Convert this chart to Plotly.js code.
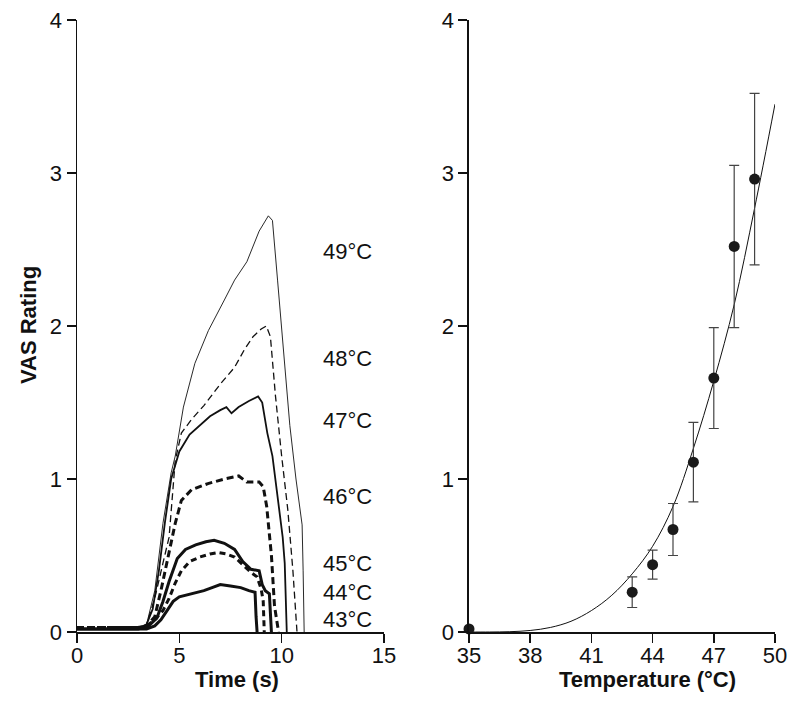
<!DOCTYPE html>
<html>
<head>
<meta charset="utf-8">
<script src="https://cdn.plot.ly/plotly-3.0.1.min.js"></script>
<style>html,body{margin:0;padding:0;background:#fff;}#chart{width:800px;height:709px;}</style>
</head>
<body>
<div id="chart"></div>
<script>
// ---- Left panel: VAS time courses ----
const t43 = [0,3,3.4,3.8,4.1,4.4,4.7,5.0,5.6,6.2,6.6,7.0,7.5,8.0,8.4,8.7,8.75,8.8];
const v43 = [0.02,0.02,0.02,0.04,0.08,0.14,0.2,0.23,0.25,0.27,0.29,0.31,0.30,0.29,0.27,0.26,0.1,0];
const t44 = [0,3,3.4,3.8,4.2,4.5,4.8,5.1,5.5,6.0,6.5,6.9,7.3,7.7,8.1,8.5,8.8,9.0,9.1,9.15];
const v44 = [0.03,0.03,0.04,0.08,0.14,0.22,0.32,0.40,0.46,0.49,0.51,0.52,0.51,0.49,0.44,0.39,0.36,0.28,0.2,0];
const t45 = [0,3,3.5,3.9,4.2,4.5,4.9,5.3,5.8,6.3,6.7,7.2,7.7,8.1,8.5,8.9,9.05,9.2,9.4,9.45,9.5];
const v45 = [0.02,0.02,0.04,0.09,0.2,0.33,0.48,0.54,0.57,0.59,0.6,0.58,0.54,0.46,0.41,0.40,0.31,0.27,0.25,0.1,0];
const t46 = [0,3,3.4,3.8,4.1,4.45,4.8,5.1,5.6,6.4,7.2,7.9,8.3,8.9,9.1,9.27,9.5,9.65,9.8,9.85];
const v46 = [0.03,0.03,0.04,0.10,0.27,0.49,0.71,0.86,0.93,0.97,1.0,1.02,0.98,0.98,0.95,0.82,0.5,0.17,0.03,0];
const t47 = [0,3,3.4,3.7,4.0,4.3,4.6,5.0,5.5,6.0,6.5,7.0,7.3,7.55,7.9,8.4,8.85,9.05,9.3,9.55,9.8,10.05,10.15,10.2,10.25];
const v47 = [0.02,0.02,0.05,0.15,0.4,0.72,1.0,1.18,1.29,1.35,1.41,1.45,1.47,1.43,1.47,1.51,1.54,1.50,1.30,1.15,0.90,0.62,0.45,0.1,0];
const t48 = [0,3,3.4,3.8,4.2,4.5,4.8,5.1,5.6,6.2,7.0,7.7,8.2,8.6,9.0,9.25,9.45,9.7,10.0,10.3,10.55,10.7,10.75];
const v48 = [0.02,0.02,0.05,0.22,0.45,0.62,1.12,1.30,1.39,1.48,1.62,1.73,1.85,1.93,1.98,2.0,1.93,1.54,1.15,0.8,0.4,0.08,0];
const t49 = [0,3,3.4,3.8,4.2,4.6,4.8,5.2,5.76,6.42,7.2,7.7,8.3,8.9,9.35,9.55,9.8,10.1,10.4,10.7,10.9,11.0,11.05,11.1];
const v49 = [0.02,0.02,0.05,0.27,0.71,1.04,1.15,1.47,1.756,1.97,2.17,2.3,2.42,2.62,2.72,2.69,2.3,1.8,1.35,1.0,0.8,0.7,0.4,0];
const seriesLabels = ['43°C','44°C','45°C','46°C','47°C','48°C','49°C'];

// ---- Right panel: mean ratings vs temperature ----
const temps = [35,43,44,45,46,47,48,49];
const meanVAS = [0.02,0.26,0.44,0.67,1.11,1.66,2.52,2.96];
const semVAS = [0,0.10,0.095,0.17,0.26,0.33,0.53,0.56];
const fitT = [35,36,37,38,39,40,41,42,43,44,45,46,47,48,49,50];
const fitV = [0,0,0.002,0.01,0.03,0.07,0.14,0.24,0.38,0.56,0.82,1.2,1.64,2.14,2.77,3.45];

const leftX = ['Time (s)'];
const black = '#111';

function line(x,y,width,dash){
  return {x:x,y:y,type:'scatter',mode:'lines',xaxis:'x',yaxis:'y',
    line:{color:black,width:width,dash:dash,shape:'linear'},hoverinfo:'skip',showlegend:false};
}
const traces = [
  line(t43,v43,3,'solid'),
  line(t44,v44,3,'6px,4px'),
  line(t45,v45,3,'solid'),
  line(t46,v46,3,'7px,4px'),
  line(t47,v47,1.8,'solid'),
  line(t48,v48,1.3,'7px,4px'),
  line(t49,v49,0.9,'solid'),
  {x:fitT,y:fitV,type:'scatter',mode:'lines',xaxis:'x2',yaxis:'y2',
   line:{color:black,width:1,shape:'spline'},hoverinfo:'skip',showlegend:false},
  {x:temps,y:meanVAS,type:'scatter',mode:'markers',xaxis:'x2',yaxis:'y2',cliponaxis:false,
   marker:{color:'#1a1a1a',size:11},
   error_y:{type:'data',array:semVAS,visible:true,color:'#444',thickness:1.2,width:5},
   hoverinfo:'skip',showlegend:false}
];

const tickFont = {family:'Arial, "Liberation Sans", sans-serif',size:22,color:black};
const titleFont = {family:'Arial, "Liberation Sans", sans-serif',size:22,color:black,weight:'bold'};
const axBase = {showgrid:false,zeroline:false,showline:true,linecolor:black,linewidth:1.5,
  ticks:'outside',ticklen:9,tickwidth:1.5,tickcolor:black,tickfont:tickFont,fixedrange:true};

const labelY = [0.085,0.26,0.45,0.884,1.38,1.79,2.485];
const annotations = seriesLabels.map((s,i)=>({text:s,x:11.9,y:labelY[i],xref:'x',yref:'y',
  xanchor:'left',yanchor:'middle',showarrow:false,font:tickFont}));
annotations.push({text:'<b>VAS Rating</b>',x:-0.0702,y:0.5016,xref:'paper',yref:'paper',
  textangle:-90,showarrow:false,xanchor:'center',yanchor:'middle',font:titleFont});
annotations.push({text:'<b>'+leftX[0]+'</b>',x:0.2288,y:-0.0784,xref:'paper',yref:'paper',
  showarrow:false,xanchor:'center',yanchor:'middle',font:titleFont});
annotations.push({text:'<b>Temperature (°C)</b>',x:0.8173,y:-0.0784,xref:'paper',yref:'paper',
  showarrow:false,xanchor:'center',yanchor:'middle',font:titleFont});

const xStand = -6;
const layout = {
  width:800,height:709,paper_bgcolor:'#fff',plot_bgcolor:'#fff',
  margin:{l:77,r:25,t:20,b:77},showlegend:false,
  xaxis:Object.assign({},axBase,{domain:[0,0.4398],range:[0,15],tickvals:[0,5,10,15],ticklabelstandoff:xStand}),
  yaxis:Object.assign({},axBase,{range:[0,4],tickvals:[0,1,2,3,4]}),
  xaxis2:Object.assign({},axBase,{domain:[0.5616,1],range:[35,50],tickvals:[35,38,41,44,47,50],anchor:'y2',ticklabelstandoff:xStand}),
  yaxis2:Object.assign({},axBase,{range:[0,4],tickvals:[0,1,2,3,4],anchor:'x2'}),
  annotations:annotations
};
Plotly.newPlot('chart',traces,layout,{displayModeBar:false,staticPlot:true});
</script>
</body>
</html>
